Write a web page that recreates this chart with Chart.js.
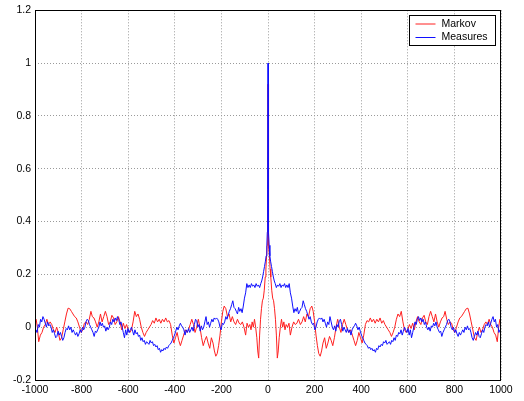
<!DOCTYPE html>
<html>
<head>
<meta charset="utf-8">
<script src="https://cdn.jsdelivr.net/npm/chart.js@4.4.0/dist/chart.umd.min.js"></script>
<style>
html, body { margin: 0; padding: 0; background: #fff; }
canvas { display: block; }
</style>
</head>
<body>
<canvas id="acfChart" width="524" height="401"></canvas>
<script>
const markovLags = [0, 1, 2, 4, 6, 9, 12, 16, 20, 24, 28, 32, 36, 40, 44, 48, 53, 58, 63, 68,
    73, 78, 84, 90, 96, 103, 110, 117, 124, 131, 139, 146, 153, 160, 167, 174, 181, 188, 194, 200,
    206, 212, 218, 224, 230, 236, 243, 250, 257, 264, 271, 278, 285, 292, 299, 306, 313, 320, 327, 334,
    341, 348, 355, 362, 369, 376, 383, 390, 397, 404, 411, 418, 425, 432, 439, 446, 453, 460, 467, 474,
    481, 488, 495, 502, 509, 516, 523, 530, 537, 544, 551, 558, 565, 572, 579, 586, 593, 600, 607, 614,
    621, 628, 635, 642, 649, 656, 663, 670, 677, 684, 691, 698, 705, 712, 719, 726, 733, 740, 747, 754,
    760, 767, 774, 781, 788, 795, 802, 809, 816, 823, 830, 837, 844, 851, 858, 865, 872, 879, 886, 893,
    900, 907, 914, 921, 928, 935, 942, 949, 956, 963, 970, 977, 984, 990, 995, 1000];
const markovValues = [0.92, 0.46, 0.38, 0.31, 0.27, 0.22, 0.19, 0.14, 0.11, 0.10, 0.07, 0.03, -0.03, -0.117, -0.09, -0.04, 0.0, 0.03, 0.0, 0.02,
    -0.01, 0.01, 0.0, 0.015, -0.03, 0.0, 0.02, 0.01, 0.015, 0.03, 0.01, 0.02, 0.04, 0.02, 0.05, 0.04, 0.07, 0.08, 0.06, 0.02,
    -0.03, -0.07, -0.10, -0.11, -0.09, -0.06, -0.04, -0.08, -0.06, -0.035, -0.05, -0.07, -0.04, 0.0, 0.03, 0.0, -0.02, 0.01, 0.03, 0.01,
    -0.01, -0.02, -0.01, -0.03, -0.05, -0.07, -0.05, -0.02, -0.04, -0.06, -0.03, 0.01, 0.025, 0.02, 0.035, 0.02, 0.03, 0.015, 0.03, 0.02,
    0.035, 0.015, 0.025, 0.01, 0.0, -0.01, -0.02, -0.035, -0.02, 0.0, 0.03, 0.05, 0.04, 0.06, 0.02, -0.01, -0.02, -0.01, 0.01, -0.005,
    0.015, -0.01, 0.02, 0.04, 0.02, 0.01, 0.035, 0.045, 0.02, 0.01, 0.04, 0.06, 0.04, 0.02, 0.05, 0.02, 0.0, 0.02, 0.035, 0.04,
    0.06, 0.03, 0.01, 0.02, 0.015, -0.01, -0.02, 0.0, 0.02, 0.035, 0.04, 0.05, 0.06, 0.07, 0.072, 0.05, 0.02, -0.01, -0.04, -0.05,
    -0.02, 0.0, -0.02, -0.01, 0.01, 0.02, 0.01, 0.03, 0.01, 0.0, -0.02, -0.03, -0.055, 0.0, 0.03, 0.035];

const measuresLags = [0, 1, 2, 3, 5, 8, 11, 15, 19, 23, 27, 31, 36, 41, 46, 51, 56, 61, 66, 71,
    76, 81, 86, 91, 96, 101, 106, 111, 116, 121, 126, 131, 136, 141, 146, 151, 156, 161, 166, 171,
    176, 181, 186, 191, 196, 201, 206, 211, 216, 221, 226, 231, 236, 241, 246, 251, 256, 261, 266, 271,
    276, 281, 286, 291, 296, 301, 306, 311, 316, 321, 326, 331, 336, 341, 346, 351, 356, 361, 366, 371,
    376, 381, 386, 391, 396, 401, 406, 411, 416, 421, 426, 431, 436, 441, 446, 451, 456, 461, 466, 471,
    476, 481, 486, 491, 496, 501, 506, 511, 516, 521, 526, 531, 536, 541, 546, 551, 556, 561, 566, 571,
    576, 581, 586, 591, 596, 601, 606, 611, 616, 621, 626, 631, 636, 641, 646, 651, 656, 661, 666, 671,
    676, 681, 686, 691, 696, 701, 706, 711, 716, 721, 726, 731, 736, 741, 746, 751, 756, 761, 766, 771,
    776, 781, 786, 791, 796, 801, 806, 811, 816, 821, 826, 831, 836, 841, 846, 851, 856, 861, 866, 871,
    876, 881, 886, 891, 896, 901, 906, 911, 916, 921, 926, 931, 936, 941, 946, 951, 956, 961, 966, 971,
    976, 981, 986, 991, 996, 1000];
const measuresValues = [1.0, 0.52, 0.42, 0.36, 0.31, 0.27, 0.25, 0.23, 0.21, 0.19, 0.175, 0.165, 0.15, 0.16, 0.155, 0.165, 0.15, 0.16, 0.155, 0.165,
    0.15, 0.16, 0.15, 0.165, 0.13, 0.11, 0.08, 0.055, 0.07, 0.06, 0.075, 0.05, 0.06, 0.07, 0.075, 0.1, 0.085, 0.07, 0.06, 0.045,
    0.03, 0.04, 0.02, 0.01, 0.015, -0.01, 0.0, 0.02, 0.03, 0.035, 0.03, 0.035, 0.02, 0.03, 0.015, 0.0, 0.02, 0.01, 0.04, 0.02,
    0.0, -0.01, 0.005, -0.015, 0.01, 0.0, 0.025, 0.03, 0.01, -0.015, 0.0, -0.01, -0.02, -0.005, -0.02, -0.01, -0.03, -0.01, 0.0, 0.005,
    0.015, 0.005, -0.01, 0.0, -0.015, -0.03, -0.04, -0.05, -0.06, -0.065, -0.07, -0.08, -0.075, -0.085, -0.08, -0.09, -0.085, -0.095, -0.08, -0.085,
    -0.07, -0.075, -0.065, -0.07, -0.055, -0.06, -0.05, -0.065, -0.06, -0.055, -0.065, -0.05, -0.055, -0.04, -0.05, -0.03, -0.035, -0.02, -0.025, -0.01,
    -0.03, -0.015, 0.0, -0.01, -0.02, -0.005, -0.03, -0.01, -0.04, -0.02, 0.0, 0.02, 0.01, 0.03, 0.04, 0.025, 0.035, 0.02, 0.03, 0.01,
    0.02, 0.0, -0.01, 0.0, -0.015, 0.005, 0.0, 0.015, 0.005, 0.02, 0.0, -0.01, -0.02, -0.015, -0.035, -0.02, -0.01, 0.0, 0.01, 0.025,
    0.03, 0.02, 0.0, -0.01, 0.0, -0.02, -0.01, -0.025, -0.035, -0.02, -0.03, -0.02, -0.01, -0.02, 0.0, -0.01, 0.005, -0.01, -0.005, -0.02,
    -0.04, -0.05, -0.035, -0.02, -0.03, -0.015, -0.035, -0.04, -0.025, -0.01, -0.02, 0.0, 0.01, 0.005, 0.02, 0.0, 0.015, 0.03, 0.04, 0.02,
    0.03, 0.0, 0.01, -0.02, -0.01, -0.02];

const xTicks = [-1000, -800, -600, -400, -200, 0, 200, 400, 600, 800, 1000];
const yTicks = [-0.2, 0, 0.2, 0.4, 0.6, 0.8, 1, 1.2];
const seriesNames = ['Markov', 'Measures'];
const seriesColors = ['#ff2020', '#1010ff'];

function mirrored(lags, values) {
    const pts = [];
    for (let i = lags.length - 1; i > 0; i--) {
        pts.push({ x: -lags[i], y: values[i] });
    }
    for (let i = 0; i < lags.length; i++) {
        pts.push({ x: lags[i], y: values[i] });
    }
    return pts;
}

const tickFont = { family: '"Liberation Sans", Arial, sans-serif', size: 10.5 };

const frameAndLegend = {
    id: 'frameAndLegend',
    afterDraw(chart) {
        const { ctx, chartArea: a } = chart;
        ctx.save();
        ctx.strokeStyle = '#000';
        ctx.lineWidth = 1;
        ctx.setLineDash([]);
        ctx.strokeRect(Math.round(a.left) + 0.5, Math.round(a.top) + 0.5,
            Math.round(a.right - a.left) - 1, Math.round(a.bottom - a.top));

        // legend box in the top right corner
        const bx = Math.round(a.right) - 92 + 0.5;
        const by = Math.round(a.top) + 5 + 0.5;
        ctx.fillStyle = '#fff';
        ctx.fillRect(bx, by, 86, 30);
        ctx.strokeRect(bx, by, 86, 30);
        ctx.font = '10.5px "Liberation Sans", Arial, sans-serif';
        ctx.textBaseline = 'middle';
        seriesNames.forEach((name, i) => {
            const ly = by + 8.5 + i * 13.5;
            ctx.strokeStyle = seriesColors[i];
            ctx.beginPath();
            ctx.moveTo(bx + 6, ly);
            ctx.lineTo(bx + 26, ly);
            ctx.stroke();
            ctx.fillStyle = '#000';
            ctx.fillText(name, bx + 32, ly);
        });
        ctx.restore();
    }
};

const ctx = document.getElementById('acfChart').getContext('2d');
new Chart(ctx, {
    type: 'line',
    data: {
        datasets: [{
            label: seriesNames[0],
            data: mirrored(markovLags, markovValues),
            borderColor: seriesColors[0],
            borderWidth: 1,
            pointRadius: 0,
            tension: 0,
            order: 1
        }, {
            label: seriesNames[1],
            data: mirrored(measuresLags, measuresValues),
            borderColor: seriesColors[1],
            borderWidth: 1,
            pointRadius: 0,
            tension: 0,
            order: 0
        }]
    },
    options: {
        responsive: false,
        animation: false,
        layout: { padding: { top: 10, right: 23, left: 0, bottom: 0 } },
        plugins: {
            legend: { display: false },
            tooltip: { enabled: false }
        },
        scales: {
            x: {
                type: 'linear',
                min: -1000,
                max: 1000,
                afterBuildTicks: axis => { axis.ticks = xTicks.map(v => ({ value: v })); },
                afterFit: axis => { axis.height = 21; },
                ticks: {
                    font: tickFont,
                    color: '#000',
                    padding: 4,
                    maxRotation: 0,
                    autoSkip: false,
                    callback: v => String(v)
                },
                grid: { color: '#9a9a9a', drawTicks: false },
                border: { display: false, dash: [1, 2] }
            },
            y: {
                type: 'linear',
                min: -0.2,
                max: 1.2,
                afterBuildTicks: axis => { axis.ticks = yTicks.map(v => ({ value: v })); },
                afterFit: axis => { axis.width = 35; },
                ticks: {
                    font: tickFont,
                    color: '#000',
                    padding: 4,
                    autoSkip: false,
                    callback: v => String(v)
                },
                grid: { color: '#9a9a9a', drawTicks: false },
                border: { display: false, dash: [1, 2] }
            }
        }
    },
    plugins: [frameAndLegend]
});
</script>
</body>
</html>
